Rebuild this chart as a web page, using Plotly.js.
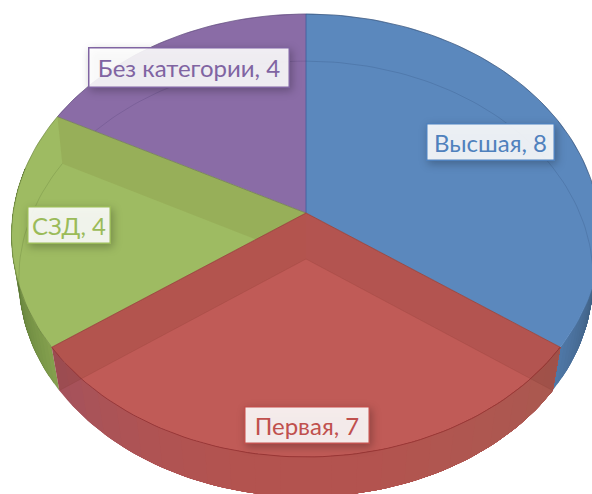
<!DOCTYPE html>
<html>
<head>
<meta charset="utf-8">
<script src="https://cdn.plot.ly/plotly-3.0.1.min.js"></script>
<style>
html,body{margin:0;padding:0;background:#fff;overflow:hidden}
#chart{width:592px;height:494px}
.annotation rect.bg{filter:drop-shadow(2px 3px 4px rgba(0,0,0,.28))}
</style>
</head>
<body>
<div id="chart"></div>
<script>
// Data (clockwise from 12 o'clock)
const categories = ["Высшая", "Первая", "СЗД", "Без категории"];
const values = [8, 7, 4, 4];
const topColors = ["#5b88bd", "#c05b57", "#9ebb62", "#8a6ca6"];
const labelColors = ["#4f81bd", "#c0504d", "#9bbb59", "#8064a2"];
const labelX = [490.5, 307, 69, 189];
const labelY = [141.5, 425, 225, 67.5];
const labelW = [129, 126, 84, 202];
const labelH = [38, 38, 38, 41];

// Perspective of the tilted disc
const topPlane = {cx: 306, cy: 213, rx: 293, ry: 219.2, p: 0.1016};
const basePlane = {cx: 306, cy: 259, rx: 286, ry: 216, p: 0.0917};

function proj(deg, pl) {
  const t = deg * Math.PI / 180, X = Math.sin(t), Y = -Math.cos(t), w = 1 - pl.p * Y;
  return [pl.cx + pl.rx * X / w, pl.cy + pl.ry * Y / w];
}
function arc(a0, a1, pl) {
  const n = Math.max(2, Math.ceil(Math.abs(a1 - a0) / 1.5)), out = [];
  for (let i = 0; i <= n; i++) out.push(proj(a0 + (a1 - a0) * i / n, pl));
  return out;
}
const total = values.reduce((a, b) => a + b, 0);
const bounds = [0];
values.forEach(v => bounds.push(bounds[bounds.length - 1] + v / total * 360));

const traces = [];
function poly(pts, fill, line, lw) {
  traces.push({type: "scatter", mode: "lines", x: pts.map(p => p[0]).concat(pts[0][0]),
    y: pts.map(p => p[1]).concat(pts[0][1]), fill: "toself", fillcolor: fill,
    line: {color: line || fill, width: lw === undefined ? 0.6 : lw}, hoverinfo: "skip", showlegend: false});
}
function stroke(pts, color, lw) {
  traces.push({type: "scatter", mode: "lines", x: pts.map(p => p[0]), y: pts.map(p => p[1]),
    line: {color: color, width: lw}, hoverinfo: "skip", showlegend: false});
}
function hex(c) { return [1, 3, 5].map(i => parseInt(c.substr(i, 2), 16)); }
function mix(stops, f) {
  const s = f * (stops.length - 1), i = Math.min(stops.length - 2, Math.floor(s)), k = s - i;
  const a = hex(stops[i]), b = hex(stops[i + 1]);
  return "rgb(" + a.map((v, j) => Math.round(v + (b[j] - v) * k)).join(",") + ")";
}
// Each band runs to the far end and the next one paints over it, so no seams show
function strip(a0, a1, stops) {
  const n = 24;
  for (let i = 0; i < n; i++) {
    const s = a0 + (a1 - a0) * i / n;
    poly(arc(s, a1, topPlane).concat(arc(a1, s, basePlane)), mix(stops, (i + .5) / n), null, 0);
  }
}
const hubT = [topPlane.cx, topPlane.cy], hubB = [basePlane.cx, basePlane.cy];
function wedge(a0, a1, fill) { poly([hubT].concat(arc(a0, a1, topPlane)), fill); }
function radial(a, fill) { poly([hubT, proj(a, topPlane), proj(a, basePlane), hubB], fill, null, 0); }

const [b0, b1, b2, b3, b4] = bounds;

// Outer walls at the sides
strip(b1, 84, ["#4f78a8", "#45688f", "#3a5775", "#2c4059"]);
strip(b2, 282, ["#84a04e", "#6f8c42", "#5a7636", "#45592a"]);

// Back slices
wedge(b3, b4, topColors[3]);
wedge(b0, b1, topColors[0]);
stroke(arc(b3, b4, basePlane), "rgba(50,40,90,.22)", 0.8);
stroke(arc(b0, 95, basePlane), "rgba(30,50,90,.22)", 0.8);
stroke(arc(b3, b4, topPlane), "rgba(50,40,80,.45)", 0.8);
stroke(arc(b0, 95, topPlane), "rgba(30,45,75,.55)", 0.8);

// Green slice
wedge(b2, b3, topColors[2]);
stroke(arc(b2, b3, basePlane), "rgba(60,80,30,.22)", 0.8);
stroke(arc(b2, b3, topPlane), "rgba(70,90,40,.45)", 0.8);
radial(b3, "rgba(120,120,50,.18)");
stroke([hubT, proj(b3, topPlane)], "rgba(70,60,90,.45)", 0.8);
stroke([hubT, [hubT[0], proj(b0, topPlane)[1]]], "rgba(50,60,130,.45)", 1);

// Red slice and its front wall
wedge(b1, b2, topColors[1]);
strip(b2, b1, ["#a4525c", "#ae5354", "#b3534f", "#b3534f", "#ae5750", "#a9584f"]);
radial(b1, "rgba(110,50,45,.16)");
radial(b2, "rgba(110,50,30,.16)");
stroke(arc(b1, b2, topPlane), "rgba(140,40,40,.70)", 0.9);
stroke([proj(b1, topPlane), hubT, proj(b2, topPlane)], "rgba(120,50,40,.55)", 0.8);
stroke([proj(b1, basePlane), hubB, proj(b2, basePlane)], "rgba(120,50,40,.25)", 0.6);

const annotations = categories.map((c, i) => ({
  xref: "x", yref: "y", x: labelX[i], y: labelY[i], xanchor: "center", yanchor: "middle",
  text: c + ", " + values[i], showarrow: false, width: labelW[i] - 3, height: labelH[i] - 3,
  align: "center", valign: "middle", borderpad: 0, borderwidth: 1.5,
  bordercolor: labelColors[i], bgcolor: "rgba(255,255,255,.89)",
  font: {family: "Lato, 'Open Sans', sans-serif", size: 24, color: labelColors[i]}
}));

Plotly.newPlot("chart", traces, {
  width: 592, height: 494, margin: {l: 0, r: 0, t: 0, b: 0},
  paper_bgcolor: "#fff", plot_bgcolor: "#fff", showlegend: false, hovermode: false,
  xaxis: {range: [0, 592], visible: false, fixedrange: true},
  yaxis: {range: [494, 0], visible: false, fixedrange: true},
  annotations: annotations
}, {displayModeBar: false, staticPlot: true});
</script>
</body>
</html>
